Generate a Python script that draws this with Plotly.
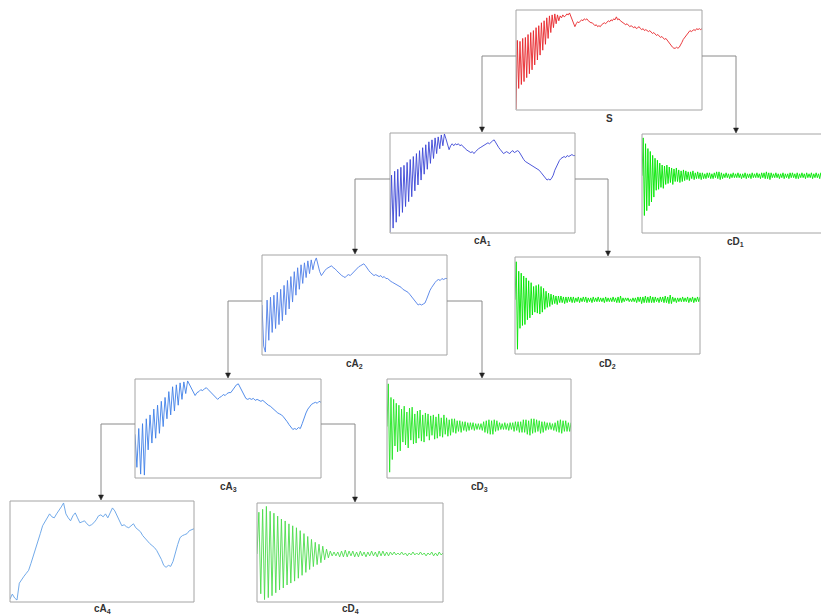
import plotly.graph_objects as go

# ---- signal and decomposition coefficients (sample values) ----
S = [0, 70, 21, 69, 25, 72, 28, 73, 32, 76, 36, 78, 40, 80, 45, 83, 50, 85, 55, 88, 60, 90, 66, 93, 72, 95,
     78, 96, 83, 97, 87, 96, 90, 95, 93, 96, 94, 95, 97, 96, 98, 94, 90, 86, 84, 87, 89, 88, 90, 91, 90, 92,
     91, 92, 90, 89, 88, 88, 86, 85, 86, 84, 85, 84, 86, 87, 88, 87, 89, 90, 89, 91, 90, 92, 91, 94, 91, 92,
     90, 89, 88, 87, 86, 87, 85, 84, 85, 84, 83, 84, 82, 83, 84, 82, 81, 82, 80, 81, 80, 79, 80, 78, 77, 78,
     76, 75, 76, 74, 73, 74, 72, 71, 72, 70, 68, 66, 65, 63, 62, 62, 63, 62, 63, 65, 68, 71, 73, 75, 77, 78,
     80, 79, 80, 81, 80, 82, 81, 82, 81, 82]

cA1 = [0, 58, 4, 62, 10, 64, 16, 66, 20, 68, 26, 71, 31, 74, 36, 77, 42, 80, 48, 83, 53, 86, 59, 89, 64, 92,
       70, 94, 75, 96, 80, 97, 85, 99, 88, 100, 95, 90, 84, 88, 90, 88, 90, 89, 90, 88, 89, 87, 86, 84, 83,
       82, 81, 82, 80, 82, 84, 85, 86, 87, 88, 89, 90, 91, 90, 92, 93, 94, 91, 88, 86, 84, 82, 80, 81, 82,
       81, 80, 82, 83, 81, 82, 83, 82, 79, 77, 74, 72, 71, 70, 69, 68, 67, 66, 65, 64, 63, 61, 59, 57, 55,
       53, 54, 53, 55, 58, 63, 67, 70, 73, 75, 76, 77, 76, 78, 77, 78, 79, 78, 78]

cA2 = [50, 8, 2, 55, 14, 58, 22, 60, 26, 63, 30, 66, 34, 70, 40, 75, 46, 79, 53, 84, 60, 88, 66, 91, 72, 93,
       78, 95, 82, 96, 86, 94, 98, 90, 84, 80, 83, 85, 87, 88, 89, 90, 88, 87, 85, 83, 82, 80, 79, 78, 80,
       81, 80, 82, 84, 86, 87, 89, 90, 91, 92, 90, 87, 85, 83, 81, 80, 81, 80, 79, 80, 78, 79, 77, 77, 75,
       74, 73, 72, 71, 70, 69, 68, 66, 65, 64, 63, 61, 59, 56, 54, 52, 50, 51, 50, 51, 52, 56, 61, 65, 68,
       71, 73, 75, 76, 75, 77, 76, 77, 77]

cA3 = [44, 10, 50, 3, 55, 2, 60, 28, 64, 35, 70, 40, 74, 45, 78, 52, 82, 60, 88, 64, 93, 68, 95, 74, 97, 80,
       98, 86, 99, 95, 91, 88, 84, 87, 88, 90, 89, 91, 92, 90, 88, 85, 83, 81, 80, 82, 83, 85, 84, 86, 87,
       87, 90, 93, 95, 96, 92, 88, 84, 81, 80, 81, 80, 81, 79, 80, 79, 78, 79, 77, 76, 74, 73, 71, 70, 68,
       66, 65, 64, 62, 60, 57, 54, 51, 49, 50, 49, 51, 50, 55, 61, 66, 70, 73, 75, 76, 77, 76, 78, 77]

cA4 = [2, 7, 3, 1, 18, 22, 25, 28, 31, 38, 45, 52, 60, 68, 76, 80, 83, 88, 85, 84, 88, 91, 95, 99, 88, 84,
       81, 86, 89, 84, 79, 80, 81, 78, 76, 77, 79, 82, 86, 87, 85, 88, 84, 89, 94, 91, 86, 80, 76, 77, 75,
       74, 76, 78, 74, 72, 70, 66, 63, 61, 58, 56, 54, 51, 47, 42, 36, 34, 36, 35, 40, 50, 57, 64, 66, 67,
       68, 71, 72, 73]

cD1 = [0, 39, -41, 33, -36, 28, -31, 25, -27, 21, -22, 18, -15, 16, -14, 13, -12, 11, -13, 10, -9, 11, -8,
       9, -7, 8, -9, 7, -6, 8, -6, 6, -7, 5, -6, 6, -5, 5, -4, 4, -5, 4, -3, 5, -4, 3, -3, 4, -3, 3, -4, 3,
       -3, 2, -3, 3, -2, 3, -3, 2, -3, 3, -2, 4, -3, 4, -4, 3, -3, 2, -2, 3, -2, 2, -3, 2, -2, 3, -2, 2, -2,
       3, -2, 2, -3, 2, -2, 3, -3, 2, -2, 2, -3, 3, -2, 2, -2, 3, -2, 2, -3, 3, -2, 3, -3, 4, -3, 3, -4, 3,
       -2, 2, -2, 3, -2, 2, -3, 2, -2, 3, -3, 2, -2, 2, -3, 3, -2, 3, -2, 2, -3, 3, -3, 2, -2, 3, -2, 2, -3,
       3, -2, 2, -2, 3, -3, 2, -2, 3, -2, 2, -3, 3, -2, 2, -2, 3, -3, 3]

cD2 = [0, 40, -52, 30, -30, 28, -27, 25, -26, 23, -21, 20, -19, 18, -16, 14, -13, 15, -14, 16, -15, 14,
       -13, 12, -10, 9, -8, 7, -7, 6, -5, 5, -4, 4, -5, 4, -3, 4, -3, 3, -4, 3, -3, 3, -2, 3, -3, 3, -3, 2,
       -2, 3, -3, 2, -2, 3, -2, 3, -3, 2, -2, 2, -3, 3, -2, 2, -2, 3, -2, 2, -2, 2, -3, 3, -2, 2, -2, 2, -2,
       3, -2, 2, -3, 3, -3, 4, -3, 2, -2, 2, -1, 2, -2, 1, -2, 2, -2, 2, -3, 3, -2, 3, -4, 3, -3, 4, -3, 3,
       -3, 4, -3, 3, -3, 3, -2, 2, -3, 3, -2, 3, -3, 4, -3, 3, -4, 5, -4, 3, -2, 2, -3, 2, -2, 2, -2, 3, -2,
       2, -2, 3, -3, 2, -2, 3, -3, 2, -2, 3, -2, 3]

cD3 = [0, 44, -47, 30, -34, 28, -20, 24, -26, 22, -25, 18, -16, 21, -19, 15, -22, 19, -14, 20, -18, 13,
       -17, 16, -12, 17, -15, 12, -16, 14, -10, 13, -14, 11, -9, 12, -13, 10, -12, 13, -10, 9, -11, 12, -8,
       9, -10, 7, -9, 8, -6, 8, -7, 6, -5, 6, -6, 5, -4, 5, -5, 4, -4, 4, -3, 4, -4, 3, -3, 3, -3, 3, -4, 5,
       -6, 6, -7, 7, -8, 6, -8, 7, -5, 6, -4, 4, -3, 3, -3, 4, -3, 3, -4, 4, -3, 4, -5, 5, -4, 5, -6, 5, -6,
       7, -6, 7, -8, 6, -9, 8, -7, 8, -6, 7, -5, 6, -7, 5, -6, 5, -4, 4, -3, 4, -3, 3, -4, 4, -5, 6, -6, 7,
       -7, 6, -5, 6, -5, 4, -5, 4]

cD4 = [0, 43, -41, 46, -47, 49, -45, 44, -43, 42, -40, 39, -37, 36, -35, 34, -32, 31, -30, 29, -28, 27,
       -25, 24, -22, 21, -19, 18, -16, 15, -13, 12, -11, 10, -9, 8, -6, 5, -4, 3, -2, 2, -2, 2, -3, 3, -3,
       4, -3, 3, -2, 3, -3, 2, -3, 3, -2, 2, -3, 2, -2, 3, -2, 2, -3, 3, -2, 3, -2, 2, -2, 2, -1, 2, -1, 1,
       -1, 2, -1, 1, -2, 1, -1, 2, -1, 1, -1, 2, -1, 1, -2, 1, -1, 2, -2, 1, -2, 2, -1, 1]

W, H = 821, 615


def fx(p):
    return p / W


def fy(p):
    return 1 - p / H


# panel: (name, label, values, colour, box in px (x0, y0, x1, y1), zero level as fraction of box height,
#         label centre y in px)
panels = [
    ("S", "S", S, "#e8262a", (516, 10, 702, 110), None, 119),
    ("cA1", "cA<sub>1</sub>", cA1, "#3b46d6", (390, 133, 575, 233), None, 241),
    ("cD1", "cD<sub>1</sub>", cD1, "#00e600", (642, 134, 828, 233), 0.58, 242),
    ("cA2", "cA<sub>2</sub>", cA2, "#4f7fe8", (262, 255, 447, 355), None, 364),
    ("cD2", "cD<sub>2</sub>", cD2, "#00e600", (515, 257, 700, 354), 0.56, 364),
    ("cA3", "cA<sub>3</sub>", cA3, "#3f80e8", (135, 379, 321, 478), None, 487),
    ("cD3", "cD<sub>3</sub>", cD3, "#22e622", (387, 379, 571, 478), 0.52, 487),
    ("cA4", "cA<sub>4</sub>", cA4, "#62a0e6", (10, 501, 194, 602), None, 609),
    ("cD4", "cD<sub>4</sub>", cD4, "#4cdc4c", (257, 503, 443, 602), 0.485, 609),
]

fig = go.Figure()
shapes = []
annotations = []
layout_axes = {}

for i, (name, label, vals, color, box, zero, ly) in enumerate(panels, start=1):
    x0, y0, x1, y1 = box
    n = len(vals)
    xs = list(range(n))
    # clip panels that run past the right edge of the page
    vis_x1 = min(x1, W)
    xr_end = (n - 1) * (vis_x1 - x0) / (x1 - x0)
    if zero is None:
        yr = [-1, 101]
    else:
        yr = [-zero * 100 - 1, (1 - zero) * 100 + 1]
    sx = "x" if i == 1 else f"x{i}"
    sy = "y" if i == 1 else f"y{i}"
    fig.add_trace(go.Scatter(x=xs, y=vals, mode="lines", xaxis=sx, yaxis=sy,
                             line=dict(color=color, width=0.9), hoverinfo="skip",
                             showlegend=False, name=name))
    kx = "xaxis" if i == 1 else f"xaxis{i}"
    ky = "yaxis" if i == 1 else f"yaxis{i}"
    layout_axes[kx] = dict(domain=[fx(x0), fx(vis_x1)], range=[0, xr_end], visible=False,
                           anchor=sy, fixedrange=True)
    layout_axes[ky] = dict(domain=[fy(y1), fy(y0)], range=yr, visible=False,
                           anchor=sx, fixedrange=True)
    shapes.append(dict(type="rect", xref="paper", yref="paper",
                       x0=fx(x0), x1=fx(x1), y0=fy(y1), y1=fy(y0),
                       line=dict(color="#a4a4a4", width=1), layer="above"))
    annotations.append(dict(x=fx((x0 + x1) / 2), y=fy(ly), xref="paper", yref="paper",
                            text=f"<b>{label}</b>", showarrow=False,
                            font=dict(family="Liberation Sans, Arial", size=10, color="#333333"),
                            xanchor="center", yanchor="middle"))

# tree connectors: (start x, start y, corner x, arrow tip y)
connectors = [
    (516, 56, 482, 133),
    (702, 56, 736, 134),
    (390, 179, 355, 255),
    (575, 179, 608, 257),
    (262, 301, 228, 379),
    (447, 301, 482, 379),
    (135, 424, 101, 501),
    (321, 424, 355, 503),
]

for sx_, sy_, cx, ty in connectors:
    shapes.append(dict(type="path", xref="paper", yref="paper",
                       path=f"M {fx(sx_)},{fy(sy_)} L {fx(cx)},{fy(sy_)} L {fx(cx)},{fy(ty - 4)}",
                       line=dict(color="#8a8a8a", width=1)))
    shapes.append(dict(type="path", xref="paper", yref="paper",
                       path=(f"M {fx(cx - 2.5)},{fy(ty - 6)} L {fx(cx + 2.5)},{fy(ty - 6)} "
                             f"L {fx(cx)},{fy(ty - 1)} Z"),
                       fillcolor="#222222", line=dict(color="#222222", width=0.5)))

fig.update_layout(width=W, height=H, margin=dict(l=0, r=0, t=0, b=0),
                  paper_bgcolor="white", plot_bgcolor="white",
                  shapes=shapes, annotations=annotations, **layout_axes)

fig.write_html("out.html", config={"displayModeBar": False})
